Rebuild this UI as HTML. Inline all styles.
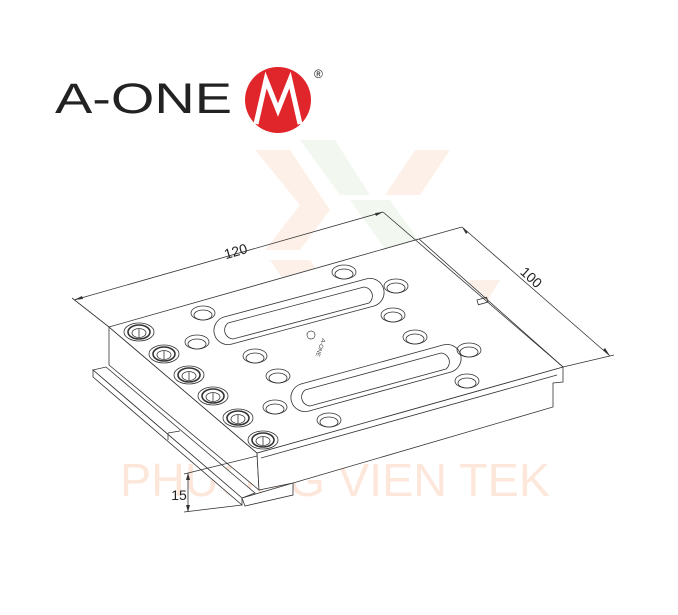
<!DOCTYPE html>
<html><head><meta charset="utf-8"><style>
body{margin:0;background:#fff;width:678px;height:615px;overflow:hidden}
svg{display:block}
</style></head><body>
<svg width="678" height="615" viewBox="0 0 678 615" xmlns="http://www.w3.org/2000/svg" font-family="Liberation Sans, sans-serif">
<!-- watermark -->
<g opacity="0.4">
<polygon points="255,150 290,150 330,210 300,250 265,250 300,205" fill="#fbdcc8"/>
<polygon points="415,150 450,150 420,195 385,195" fill="#fbdcc8"/>
<polygon points="300,140 335,140 370,195 340,195" fill="#dfeed8"/>
<polygon points="350,200 390,200 440,270 400,270" fill="#dfeed8"/>
<polygon points="270,260 310,260 350,320 310,320" fill="#fbdcc8"/>
<polygon points="470,280 500,280 470,330 440,330" fill="#fbdcc8"/>
<polygon points="300,330 340,330 380,390 340,390" fill="#dfeed8"/>
</g>
<text x="120" y="496" font-size="46" fill="#fde6da" textLength="430" lengthAdjust="spacingAndGlyphs">PHUONG VIEN TEK</text>

<!-- logo -->
<text x="55" y="113" font-size="43" fill="#222" textLength="177" lengthAdjust="spacingAndGlyphs">A-ONE</text>
<circle cx="278" cy="100" r="33" fill="#e0262a"/>
<polyline points="256,124 266,80 278,110 290,80 300,124" fill="none" stroke="#fff" stroke-width="5" stroke-linejoin="miter"/>
<text x="314" y="78" font-size="12" fill="#222">®</text>

<g fill="none" stroke="#333" stroke-width="0.8">
<!-- rail -->
<polygon points="93,370 106,367 255,493 242,498" fill="#fff"/>
<polygon points="93,370 242,498 242,505 93,377" fill="#fff"/>
<line x1="168" y1="433" x2="180" y2="431"/>
<line x1="168" y1="433" x2="168" y2="440"/>
<!-- tab -->
<polygon points="242,498 293,483 293,495 245,506" fill="#fff"/>
<!-- left side face -->
<polygon points="109,327 257,453 259,490 109,365" fill="#fff"/>
<line x1="113" y1="330" x2="257" y2="450"/>
<!-- front right face -->
<polygon points="257,453 563,367 563,382 553,383 553,407 293,483 259,490" fill="#fff"/>
<line x1="261" y1="458" x2="557" y2="375"/>
<!-- top face -->
<polygon points="109,327 419,239 563,367 257,453" fill="#fff"/>
<rect x="477" y="300" width="10" height="5" transform="rotate(-16 477 300)"/>
<!-- slots -->
<g>
<path d="M224,317 L366,279 A14,14 0 0 1 374,306 L232,344 A14,14 0 0 1 224,317Z"/>
<path d="M228,323 L364,287 A9,9 0 0 1 369,303 L233,339 A9,9 0 0 1 228,323Z"/>
<path d="M301,384 L443,345 A14,14 0 0 1 451,372 L309,411 A14,14 0 0 1 301,384Z"/>
<path d="M305,390 L441,353 A9,9 0 0 1 446,369 L310,406 A9,9 0 0 1 305,390Z"/>
</g>
<!-- holes -->
<g>
<ellipse cx="344" cy="272" rx="12" ry="7"/><ellipse cx="344" cy="274" rx="9" ry="5"/>
<ellipse cx="396" cy="286" rx="12" ry="7"/><ellipse cx="396" cy="288" rx="9" ry="5"/>
<ellipse cx="203" cy="313" rx="12" ry="7"/><ellipse cx="203" cy="315" rx="9" ry="5"/>
<ellipse cx="393" cy="315" rx="12" ry="7"/><ellipse cx="393" cy="317" rx="9" ry="5"/>
<ellipse cx="197" cy="342" rx="12" ry="7"/><ellipse cx="197" cy="344" rx="9" ry="5"/>
<ellipse cx="415" cy="337" rx="12" ry="7"/><ellipse cx="415" cy="339" rx="9" ry="5"/>
<ellipse cx="255" cy="356" rx="12" ry="7"/><ellipse cx="255" cy="358" rx="9" ry="5"/>
<ellipse cx="469" cy="350" rx="12" ry="7"/><ellipse cx="469" cy="352" rx="9" ry="5"/>
<ellipse cx="278" cy="376" rx="12" ry="7"/><ellipse cx="278" cy="378" rx="9" ry="5"/>
<ellipse cx="467" cy="381" rx="12" ry="7"/><ellipse cx="467" cy="383" rx="9" ry="5"/>
<ellipse cx="275" cy="407" rx="12" ry="7"/><ellipse cx="275" cy="409" rx="9" ry="5"/>
<ellipse cx="329" cy="420" rx="12" ry="7"/><ellipse cx="329" cy="422" rx="9" ry="5"/>
</g>
<!-- counterbores -->
<g>
<g transform="translate(139,332)"><ellipse rx="15" ry="9"/><ellipse rx="11" ry="7" stroke-width="1.6"/><ellipse cy="1" rx="7" ry="4.5"/><line x1="0" y1="-3" x2="0" y2="5"/></g>
<g transform="translate(164,354)"><ellipse rx="15" ry="9"/><ellipse rx="11" ry="7" stroke-width="1.6"/><ellipse cy="1" rx="7" ry="4.5"/><line x1="0" y1="-3" x2="0" y2="5"/></g>
<g transform="translate(189,375)"><ellipse rx="15" ry="9"/><ellipse rx="11" ry="7" stroke-width="1.6"/><ellipse cy="1" rx="7" ry="4.5"/><line x1="0" y1="-3" x2="0" y2="5"/></g>
<g transform="translate(213,396)"><ellipse rx="15" ry="9"/><ellipse rx="11" ry="7" stroke-width="1.6"/><ellipse cy="1" rx="7" ry="4.5"/><line x1="0" y1="-3" x2="0" y2="5"/></g>
<g transform="translate(238,418)"><ellipse rx="15" ry="9"/><ellipse rx="11" ry="7" stroke-width="1.6"/><ellipse cy="1" rx="7" ry="4.5"/><line x1="0" y1="-3" x2="0" y2="5"/></g>
<g transform="translate(263,440)"><ellipse rx="15" ry="9"/><ellipse rx="11" ry="7" stroke-width="1.6"/><ellipse cy="1" rx="7" ry="4.5"/><line x1="0" y1="-3" x2="0" y2="5"/></g>
</g>
<!-- dimensions -->
<line x1="109" y1="327" x2="72" y2="298"/>
<line x1="74" y1="300" x2="383" y2="212"/>
<line x1="383" y1="212" x2="563" y2="367"/>
<line x1="419" y1="239" x2="462" y2="227"/>
<line x1="563" y1="367" x2="614" y2="355"/>
<line x1="462" y1="227" x2="610" y2="356"/>
<line x1="188" y1="473" x2="188" y2="512"/>
<line x1="184" y1="474" x2="257" y2="456"/>
<line x1="184" y1="512" x2="242" y2="505"/>
</g>
<g fill="#333">
<polygon points="74,300 82,296 83,299"/>
<polygon points="383,212 375,213 376,216"/>
<polygon points="462,227 466,234 468,232"/>
<polygon points="610,356 603,350 605,348"/>
<polygon points="188,473 186,480 190,480"/>
<polygon points="188,512 186,505 190,505"/>
</g>
<text x="237" y="256" font-size="14" fill="#222" text-anchor="middle" transform="rotate(-16 237 256)">120</text>
<text x="528" y="281" font-size="14" fill="#222" text-anchor="middle" transform="rotate(42 528 281)">100</text>
<text x="179" y="500" font-size="14" fill="#222" text-anchor="middle">15</text>
<text x="322" y="338" font-size="6" fill="#444" transform="rotate(110 322 338)">A-ONE</text>
<circle cx="311" cy="335" r="4" fill="none" stroke="#444" stroke-width="0.7"/>
</svg>
</body></html>
